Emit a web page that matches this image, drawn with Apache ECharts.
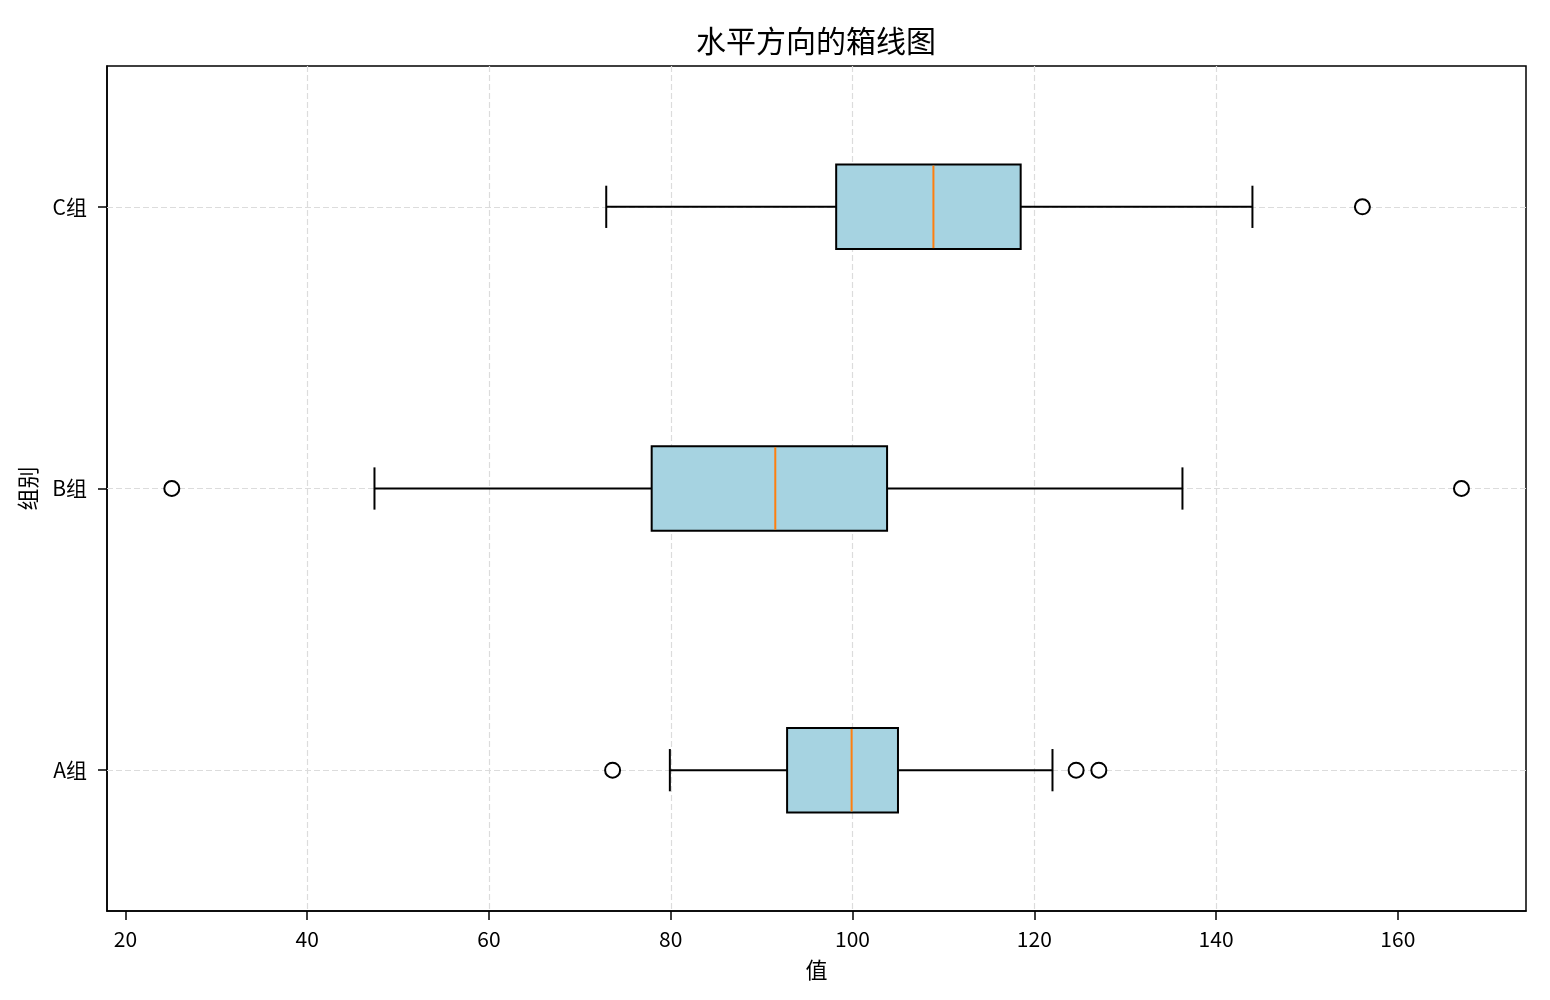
<!DOCTYPE html>
<html>
<head>
<meta charset="utf-8">
<script src="https://cdn.jsdelivr.net/npm/echarts@6/dist/echarts.min.js"></script>
<style>
html, body { margin: 0; padding: 0; background: #fff; }
#container { width: 1550px; height: 1000px; }
</style>
</head>
<body>
<div id="container"></div>
<script>
// 分组
var groups = ['A组', 'B组', 'C组'];
// 箱线图统计值
var lowWhisker = [79.9, 47.4, 72.9];
var q1 = [92.8, 77.9, 98.2];
var median = [99.9, 91.5, 108.9];
var q3 = [105.0, 103.8, 118.5];
var highWhisker = [122.0, 136.3, 144.0];
// 异常值
var outlierGroup = [0, 0, 0, 1, 1, 2];
var outlierValue = [73.6, 124.6, 127.1, 25.1, 167.0, 156.1];
// 刻度
var xTicks = [20, 40, 60, 80, 100, 120, 140, 160];
var yTicks = [1, 2, 3];

var font = 'Noto Sans CJK SC';
var gridStyle = { color: '#dcdcdc', type: [6, 3], width: 1.2 };

var boxData = groups.map(function (g, i) {
    return [i + 1, lowWhisker[i], q1[i], median[i], q3[i], highWhisker[i]];
});
var outlierData = outlierValue.map(function (v, i) {
    return [v, outlierGroup[i] + 1];
});

var chart = echarts.init(document.getElementById('container'));

var option = {
    backgroundColor: '#fff',
    animation: false,
    title: {      //标题
        text: '水平方向的箱线图',
        left: 811,
        textAlign: 'center',
        top: 21,
        textStyle: { fontFamily: font, fontSize: 30, fontWeight: 'normal', color: '#000' }
    },
    grid: {
        left: 107, top: 66, width: 1419, height: 845,
        show: true, borderColor: '#000', borderWidth: 1.5
    },
    xAxis: {
        type: 'value',
        min: 17.97,
        max: 174.1,
        splitNumber: 8,
        name: '值',
        nameLocation: 'middle',
        nameGap: 48,
        nameTextStyle: { fontFamily: font, fontSize: 22, color: '#000' },
        axisLine: { show: true, lineStyle: { color: '#000', width: 1.5 } },
        axisTick: { show: true, length: 9, customValues: xTicks, lineStyle: { color: '#000', width: 1.5 } },
        axisLabel: { customValues: xTicks, margin: 18, fontFamily: font, fontSize: 21, color: '#000' },
        splitLine: { show: true, showMinLine: false, showMaxLine: false, lineStyle: gridStyle }
    },
    yAxis: {
        type: 'value',
        min: 0.5,
        max: 3.5,
        name: '组别',
        nameLocation: 'middle',
        nameGap: 68,
        nameTextStyle: { fontFamily: font, fontSize: 22, color: '#000' },
        axisLine: { show: true, lineStyle: { color: '#000', width: 1.5 } },
        axisTick: { show: true, length: 9, customValues: yTicks, lineStyle: { color: '#000', width: 1.5 } },
        axisLabel: {
            customValues: yTicks, margin: 20, fontFamily: font, fontSize: 21, color: '#000',
            formatter: function (v) { return groups[Math.round(v) - 1] || ''; }
        },
        splitLine: { show: false }
    },
    series: [
        {   // 横向网格线
            type: 'scatter',
            name: '网格',
            z: 1,
            silent: true,
            data: [],
            markLine: {
                z: 1,
                silent: true,
                symbol: ['none', 'none'],
                label: { show: false },
                lineStyle: gridStyle,
                emphasis: { disabled: true },
                data: yTicks.map(function (t) { return { yAxis: t }; })
            }
        },
        {
            type: 'custom',
            name: '箱线',
            z: 2,
            data: boxData,
            encode: { x: [1, 2, 3, 4, 5], y: 0 },
            renderItem: function (params, api) {
                var y = api.value(0);
                var lo = api.coord([api.value(1), y]);
                var b1 = api.coord([api.value(2), y]);
                var md = api.coord([api.value(3), y]);
                var b3 = api.coord([api.value(4), y]);
                var hi = api.coord([api.value(5), y]);
                var h = api.size([0, 0.3])[1];
                var c = h / 4;
                var cy = lo[1];
                var line = { stroke: '#000', lineWidth: 2 };
                return {
                    type: 'group',
                    children: [
                        { type: 'line', shape: { x1: lo[0], y1: cy, x2: b1[0], y2: cy }, style: line },
                        { type: 'line', shape: { x1: b3[0], y1: cy, x2: hi[0], y2: cy }, style: line },
                        { type: 'line', shape: { x1: lo[0], y1: cy - c, x2: lo[0], y2: cy + c }, style: line },
                        { type: 'line', shape: { x1: hi[0], y1: cy - c, x2: hi[0], y2: cy + c }, style: line },
                        { type: 'rect', shape: { x: b1[0], y: cy - h / 2, width: b3[0] - b1[0], height: h },
                          style: { fill: '#a6d3e1', stroke: '#000', lineWidth: 2 } },
                        { type: 'line', shape: { x1: md[0], y1: cy - h / 2 + 1, x2: md[0], y2: cy + h / 2 - 1 },
                          style: { stroke: '#ff7f0e', lineWidth: 2 } }
                    ]
                };
            }
        },
        {
            type: 'scatter',
            name: '异常值',
            z: 3,
            data: outlierData,
            symbol: 'circle',
            symbolSize: 15,
            itemStyle: { color: '#fff', borderColor: '#000', borderWidth: 2, opacity: 1 }
        }
    ]
};

chart.setOption(option);
</script>
</body>
</html>
